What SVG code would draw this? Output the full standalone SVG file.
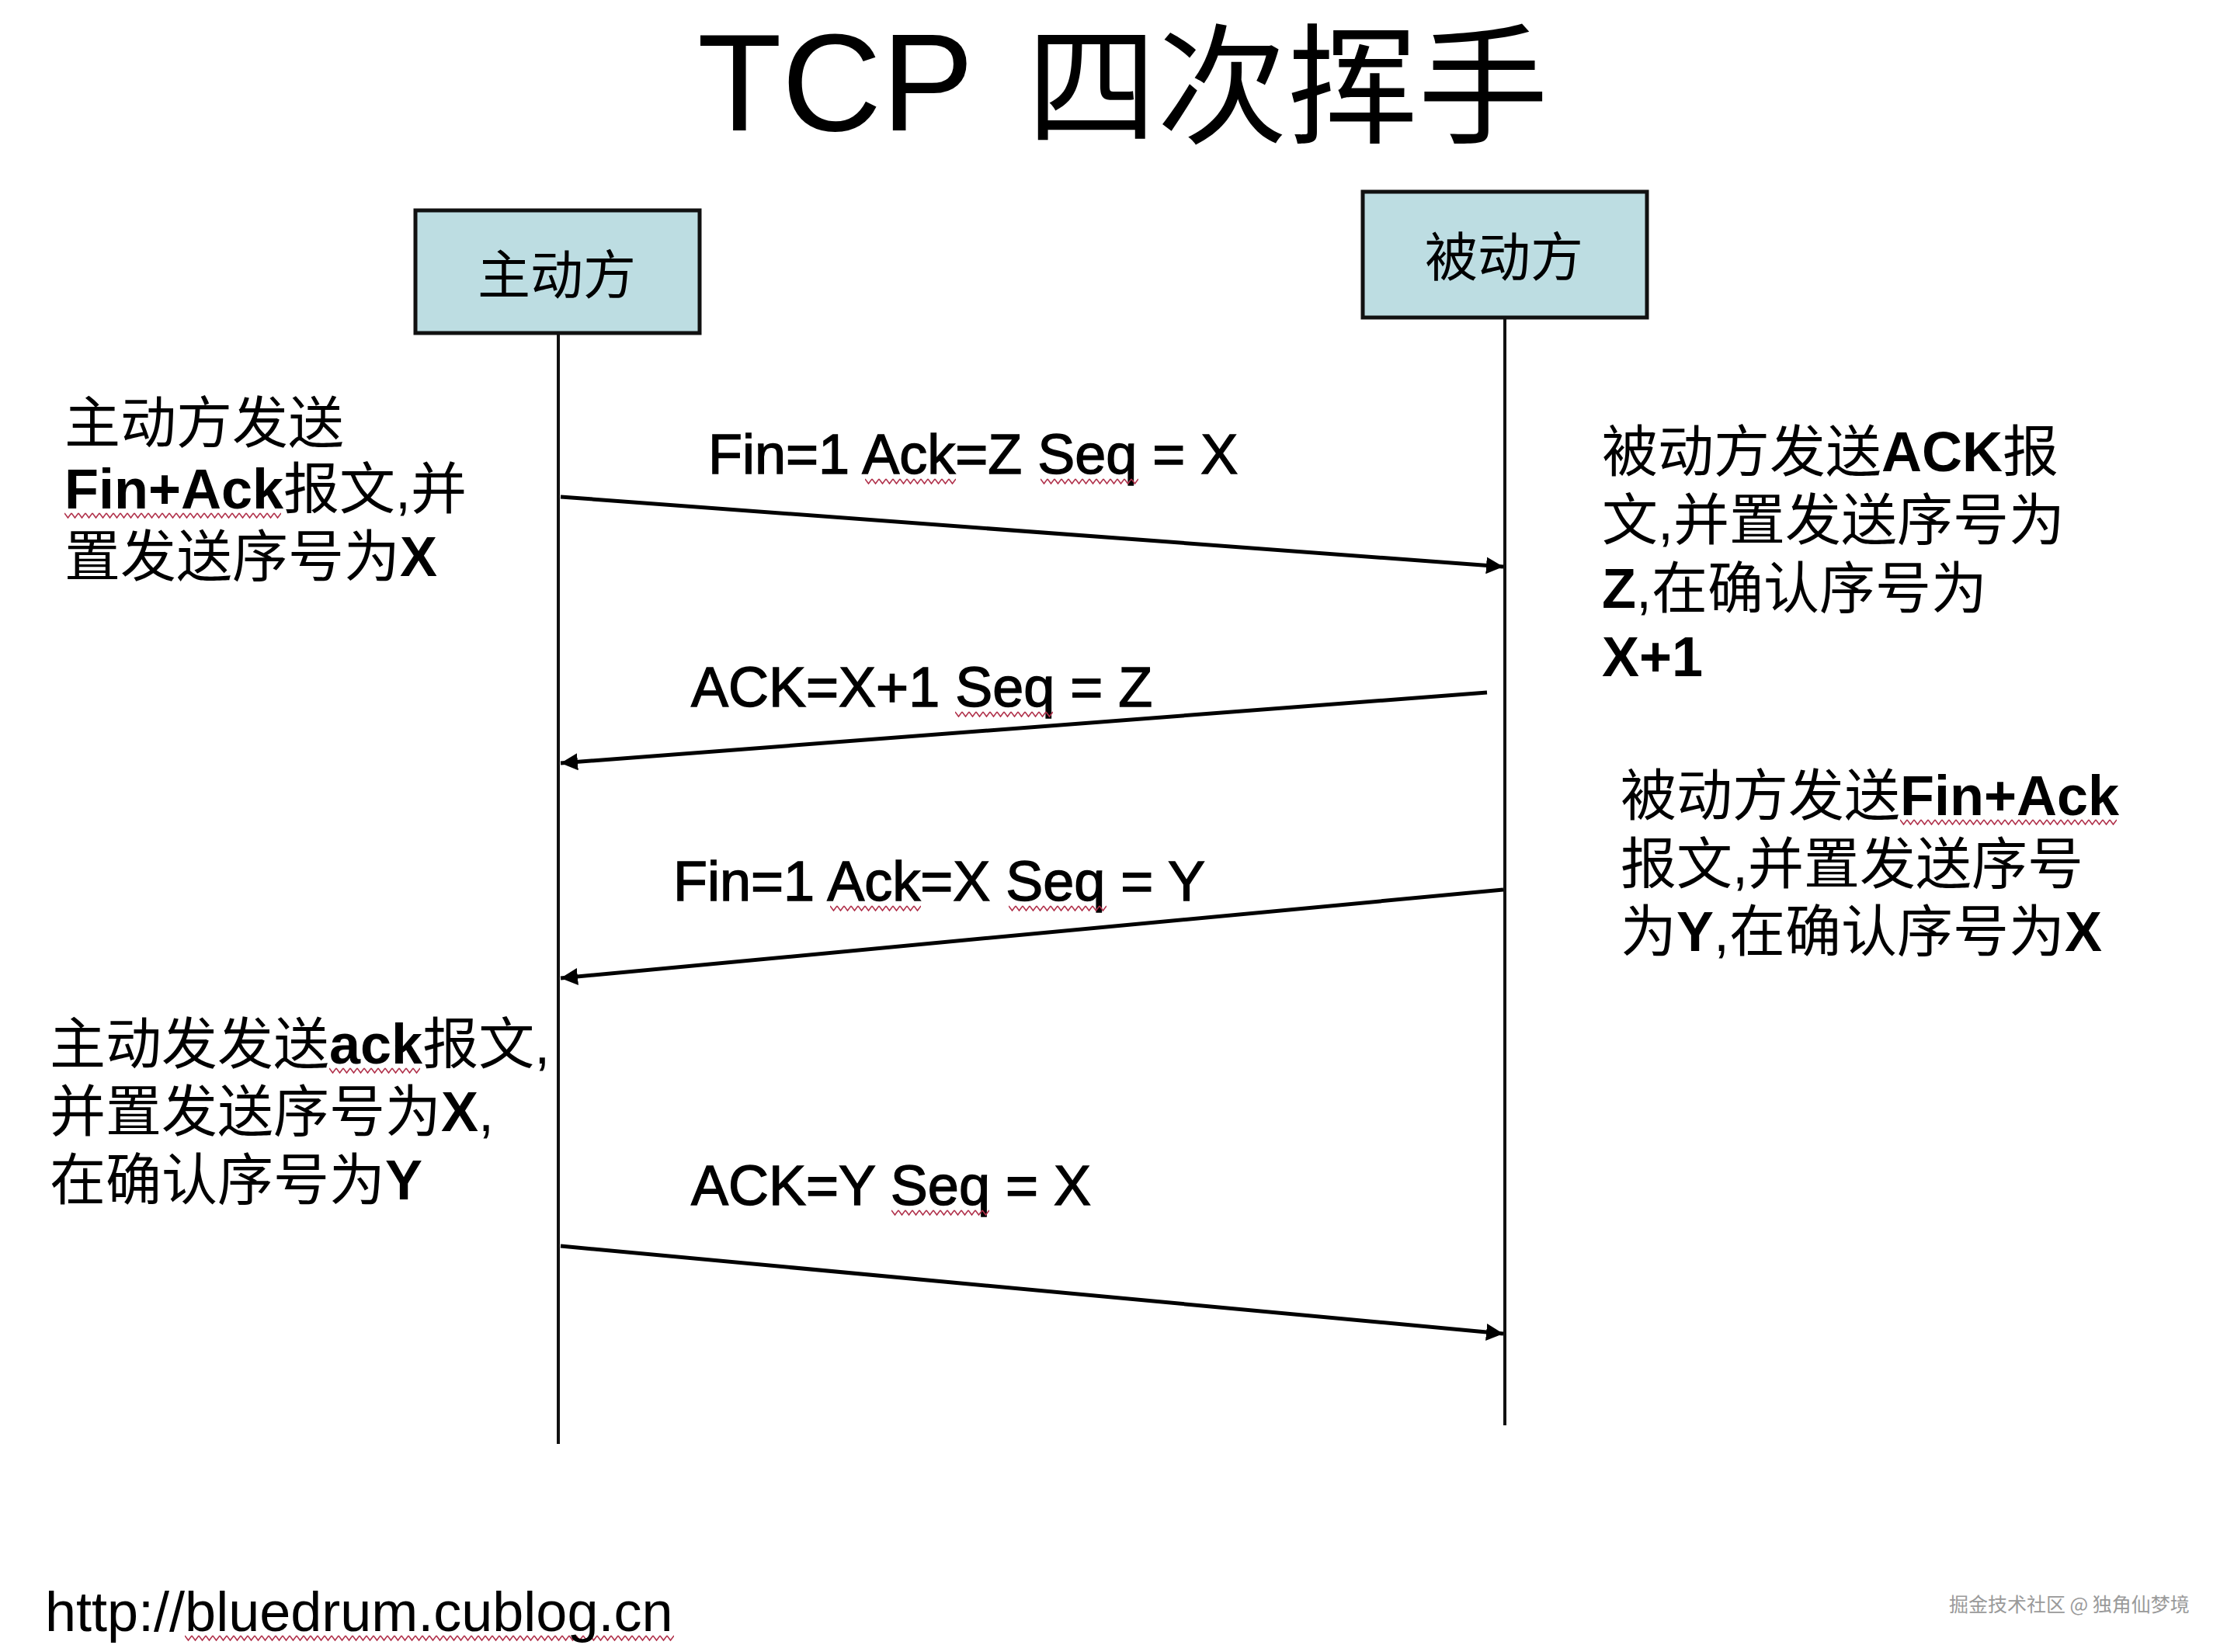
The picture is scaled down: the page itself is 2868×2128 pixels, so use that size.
<svg xmlns="http://www.w3.org/2000/svg" width="2868" height="2128" viewBox="0 0 2868 2128">
  <style>
    .lat { font-family: "Liberation Sans", Arial, sans-serif; fill: #000; }
    .cjk { font-family: "Liberation Sans", "Noto Sans CJK SC", sans-serif; fill: #000; font-size: 72px; }
    .b { font-weight: bold; }
    .lbl { font-family: "Liberation Sans", Arial, sans-serif; font-size: 72px; fill: #000; stroke: #000; stroke-width: 1.4px; }
    .box { fill: #bddde2; stroke: #111; stroke-width: 5; }
    .life { stroke: #111; stroke-width: 4; fill: none; }
    .msg { stroke: #000; stroke-width: 5; fill: none; marker-end: url(#arr); }
    .sq { fill: url(#wave); }
  </style>
  <defs>
    <marker id="arr" markerUnits="userSpaceOnUse" markerWidth="24" markerHeight="22" refX="22" refY="11" orient="auto">
      <path d="M0,0 L22,11 L0,22 z" fill="#000"/>
    </marker>
    <pattern id="wave" patternUnits="userSpaceOnUse" width="9" height="8">
      <path d="M0,1 L4.5,7 L9,1" fill="none" stroke="#b0304a" stroke-width="1.6"/>
    </pattern>
  </defs>
  <rect width="2868" height="2128" fill="#fff"/>

  <g id="title">
    <text class="lat" x="898" y="168" font-size="178">TCP</text>
    <text x="1322" y="172" font-family="Noto Sans CJK SC, sans-serif" font-size="168" fill="#000">四次挥手</text>
  </g>

  <g id="node-active">
    <rect class="box" x="535" y="271" width="366" height="158"/>
    <text x="717" y="379" text-anchor="middle" font-family="Noto Sans CJK SC, sans-serif" font-size="68" fill="#000">主动方</text>
  </g>
  <g id="node-passive">
    <rect class="box" x="1755" y="247" width="366" height="162"/>
    <text x="1937" y="356" text-anchor="middle" font-family="Noto Sans CJK SC, sans-serif" font-size="68" fill="#000">被动方</text>
  </g>

  <g id="lifelines">
    <line class="life" x1="719" y1="431" x2="719" y2="1860"/>
    <line class="life" x1="1938" y1="411" x2="1938" y2="1836"/>
  </g>

  <g id="connectors">
    <line class="msg" x1="722" y1="640" x2="1936" y2="730"/>
    <line class="msg" x1="1915" y1="892" x2="722" y2="983"/>
    <line class="msg" x1="1936" y1="1146" x2="722" y2="1260"/>
    <line class="msg" x1="722" y1="1605" x2="1936" y2="1718"/>
  </g>

  <g id="labels">
    <text class="lbl" x="912" y="610">Fin=1 Ack=Z Seq = X</text>
    <text class="lbl" x="890" y="910">ACK=X+1 Seq = Z</text>
    <text class="lbl" x="867" y="1160">Fin=1 Ack=X Seq = Y</text>
    <text class="lbl" x="890" y="1552">ACK=Y Seq = X</text>
  </g>

  <g id="note-active-fin">
    <text class="cjk" x="83" y="570">主动方发送</text>
    <text class="cjk" x="83" y="655"><tspan class="b">Fin+Ack</tspan>报文,并</text>
    <text class="cjk" x="83" y="742">置发送序号为<tspan class="b">X</tspan></text>
  </g>

  <g id="note-passive-ack">
    <text class="cjk" x="2063" y="607">被动方发送<tspan class="b">ACK</tspan>报</text>
    <text class="cjk" x="2063" y="695">文,并置发送序号为</text>
    <text class="cjk" x="2063" y="783"><tspan class="b">Z</tspan>,在确认序号为</text>
    <text class="cjk" x="2063" y="871"><tspan class="b">X+1</tspan></text>
  </g>

  <g id="note-passive-fin">
    <text class="cjk" x="2087" y="1050">被动方发送<tspan class="b">Fin+Ack</tspan></text>
    <text class="cjk" x="2087" y="1138">报文,并置发送序号</text>
    <text class="cjk" x="2087" y="1225">为<tspan class="b">Y</tspan>,在确认序号为<tspan class="b">X</tspan></text>
  </g>

  <g id="note-active-ack">
    <text class="cjk" x="64" y="1370">主动发发送<tspan class="b">ack</tspan>报文,</text>
    <text class="cjk" x="64" y="1457">并置发送序号为<tspan class="b">X</tspan>,</text>
    <text class="cjk" x="64" y="1545">在确认序号为<tspan class="b">Y</tspan></text>
  </g>

  <g id="squiggles">
    <rect class="sq" transform="translate(83,660)" width="279" height="8"/>
    <rect class="sq" transform="translate(1114,616)" width="117" height="8"/>
    <rect class="sq" transform="translate(1340,616)" width="126" height="8"/>
    <rect class="sq" transform="translate(1230,916)" width="126" height="8"/>
    <rect class="sq" transform="translate(1069,1166)" width="117" height="8"/>
    <rect class="sq" transform="translate(1299,1166)" width="126" height="8"/>
    <rect class="sq" transform="translate(1148,1558)" width="126" height="8"/>
    <rect class="sq" transform="translate(424,1375)" width="117" height="8"/>
    <rect class="sq" transform="translate(2447,1055)" width="279" height="8"/>
    <rect class="sq" transform="translate(238,2106)" width="630" height="8"/>
  </g>

  <g id="footer">
    <text class="lat" x="58" y="2101" font-size="72">http://bluedrum.cublog.cn</text>
    <text x="2510" y="2076" font-family="Noto Sans CJK SC, sans-serif" font-size="25" fill="#9a9a9a">掘金技术社区 @ 独角仙梦境</text>
  </g>
</svg>
